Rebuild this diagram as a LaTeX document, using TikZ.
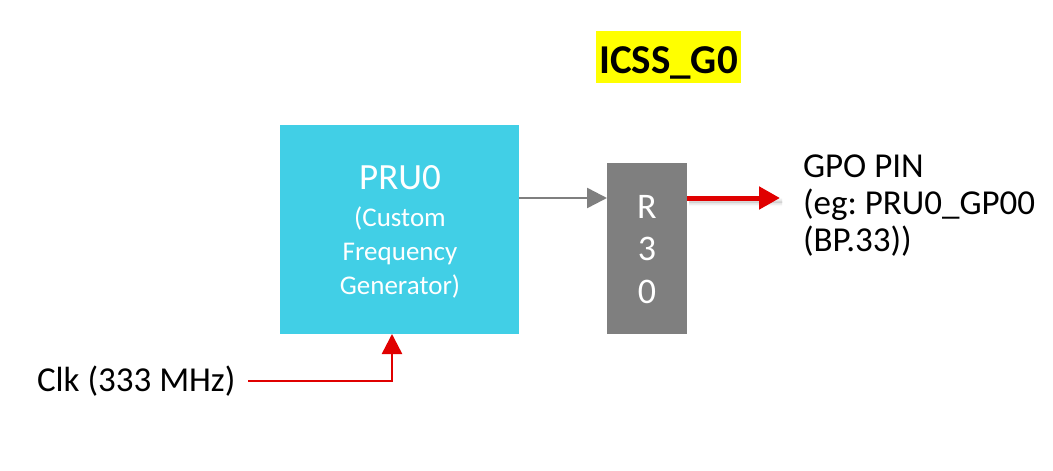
\documentclass[tikz,border=0pt]{standalone}
\usepackage{fontspec}
\setmainfont{Carlito}
\usetikzlibrary{arrows.meta,shadows.blur}
\definecolor{pru}{RGB}{65,207,230}
\definecolor{regg}{RGB}{127,127,127}
\definecolor{redl}{RGB}{224,0,0}
\definecolor{hl}{RGB}{255,255,0}
\tikzset{
  blk/.style={inner sep=0pt, outer sep=0pt, draw=none},
  lbl/.style={inner sep=0pt, outer sep=0pt, font=\fontsize{35}{37}\selectfont, anchor=base west},
  wtxt/.style={inner sep=0pt, outer sep=0pt, text=white, anchor=base},
}
\begin{document}
\frenchspacing
\begin{tikzpicture}[x=1pt,y=-1pt]
\useasboundingbox (0,0) rectangle (1053,471);
% title
\node[blk, fill=hl, minimum width=145pt, minimum height=52pt, anchor=north west] (title) at (596,31) {};
\node[blk, font=\bfseries\fontsize{41}{44}\selectfont, anchor=base] (titlet) at (668.5,73) {ICSS\_G0};
% PRU box
\node[blk, fill=pru, minimum width=239pt, minimum height=209pt, anchor=north west] (pru) at (280,125) {};
\node[wtxt, font=\fontsize{37}{40}\selectfont] (prut) at (400,189) {PRU0};
\node[wtxt, font=\fontsize{27}{30}\selectfont] (prus1) at (400,226) {(Custom};
\node[wtxt, font=\fontsize{27}{30}\selectfont] (prus2) at (400,260) {Frequency};
\node[wtxt, font=\fontsize{27}{30}\selectfont] (prus3) at (400,294) {Generator)};
% R30 box
\node[blk, fill=regg, minimum width=80pt, minimum height=171pt, anchor=north west] (r30) at (607,163) {};
\node[wtxt, font=\fontsize{36}{40}\selectfont] (r30a) at (647,218) {R};
\node[wtxt, font=\fontsize{36}{40}\selectfont] (r30b) at (647,260) {3};
\node[wtxt, font=\fontsize{36}{40}\selectfont] (r30c) at (647,303) {0};
% labels
\node[lbl] (gpo1) at (803,177) {GPO PIN};
\node[lbl] (gpo2) at (803,214) {(eg: PRU0\_GP00};
\node[lbl] (gpo3) at (803,251) {(BP.33))};
\node[lbl] (clk) at (37,391) {Clk (333 MHz)};
% connectors
\coordinate (pruout) at (519,198);
\coordinate (r30in) at (607,198);
\draw[regg, line width=2.5pt, -{Triangle[length=20pt,width=20pt]}] (pruout) -- (r30in);
\coordinate (r30out) at (687,198);
\coordinate (gpoend) at (780,198);
\draw[redl, line width=5pt, -{Triangle[length=21pt,width=22pt]},
      blur shadow={shadow xshift=2pt, shadow yshift=-4pt, shadow blur radius=4pt, shadow opacity=35}]
  (r30out) -- (gpoend);
\coordinate (clkstart) at (248,381);
\coordinate (pruin) at (392,334);
\draw[redl, line width=2.5pt, -{Triangle[length=20pt,width=20pt]}] (clkstart) -| (pruin);
\end{tikzpicture}
\end{document}
